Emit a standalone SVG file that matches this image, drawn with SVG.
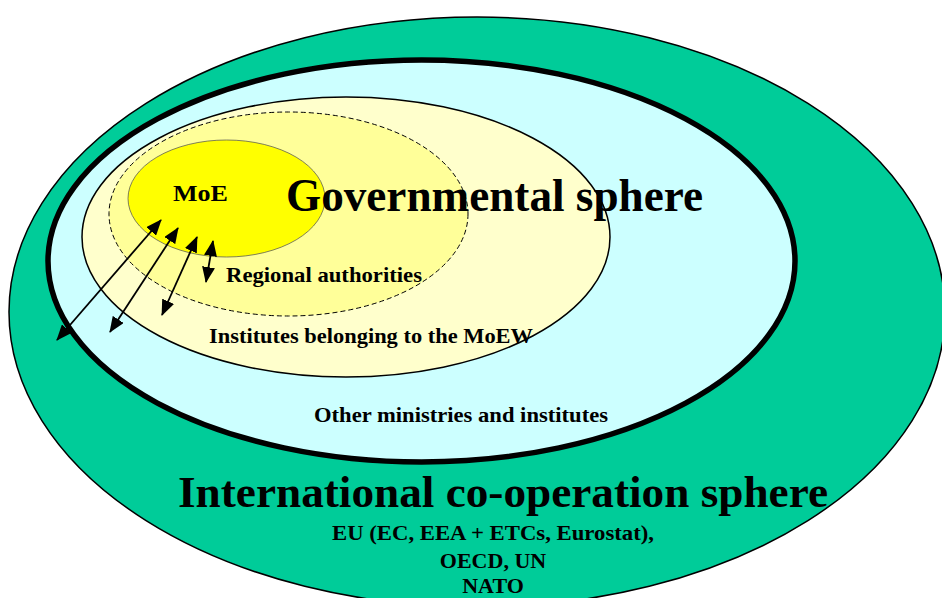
<svg xmlns="http://www.w3.org/2000/svg" width="942" height="598" viewBox="0 0 942 598">
  <defs>
    <marker id="ah" markerUnits="userSpaceOnUse" markerWidth="16" markerHeight="13" refX="15" refY="6.5" orient="auto-start-reverse">
      <path d="M0,0 L16,6.5 L0,13 z" fill="#000"/>
    </marker>
  </defs>
  <style>
    text { font-family: "Liberation Serif", "Times New Roman", serif; font-weight: bold; fill: #000; }
    .big { font-size: 46px; }
    .mid { font-size: 22px; }
    .conn { stroke: #000; stroke-width: 1.8; fill: none; marker-start: url(#ah); marker-end: url(#ah); }
  </style>
  <rect width="942" height="598" fill="#fff"/>

  <g id="international-sphere">
    <ellipse cx="477" cy="312" rx="468" ry="295" fill="#00CC99" stroke="#000" stroke-width="1.5"/>
  </g>
  <g id="other-ministries">
    <ellipse cx="421.5" cy="261" rx="373.5" ry="201" fill="#CCFFFF" stroke="#000" stroke-width="5.5"/>
  </g>
  <g id="institutes-moew">
    <ellipse cx="346" cy="237" rx="264" ry="140" fill="#FFFFCC" stroke="#000" stroke-width="1.5"/>
  </g>
  <g id="regional-authorities">
    <ellipse cx="288.5" cy="214" rx="179.5" ry="102" fill="#FFFF99" stroke="#000" stroke-width="1" stroke-dasharray="5,3"/>
  </g>
  <g id="moe">
    <ellipse cx="226.5" cy="198.5" rx="98.5" ry="58.5" fill="#FFFF00" stroke="#555" stroke-width="0.75"/>
    <text x="173" y="201" style="font-size:24px" textLength="55" lengthAdjust="spacingAndGlyphs">MoE</text>
  </g>

  <g id="labels">
    <text class="big" x="286" y="211" textLength="417" lengthAdjust="spacingAndGlyphs">Governmental sphere</text>
    <text class="mid" x="226" y="282" textLength="196" lengthAdjust="spacingAndGlyphs">Regional authorities</text>
    <text class="mid" x="209" y="343" textLength="324" lengthAdjust="spacingAndGlyphs">Institutes belonging to the MoEW</text>
    <text class="mid" x="314" y="422" textLength="294" lengthAdjust="spacingAndGlyphs">Other ministries and institutes</text>
    <text style="font-size:45px" x="178" y="507" textLength="650" lengthAdjust="spacingAndGlyphs">International co-operation sphere</text>
    <text class="mid" x="493" y="540" text-anchor="middle" textLength="322" lengthAdjust="spacingAndGlyphs">EU (EC, EEA + ETCs, Eurostat),</text>
    <text class="mid" x="493" y="568" text-anchor="middle">OECD, UN</text>
    <text class="mid" x="493" y="593" text-anchor="middle">NATO</text>
  </g>

  <g id="connectors">
    <line class="conn" x1="57" y1="340" x2="161" y2="220"/>
    <line class="conn" x1="110" y1="332" x2="178" y2="228"/>
    <line class="conn" x1="162" y1="315" x2="197" y2="237"/>
    <line class="conn" x1="206" y1="282" x2="213" y2="241"/>
  </g>
</svg>
